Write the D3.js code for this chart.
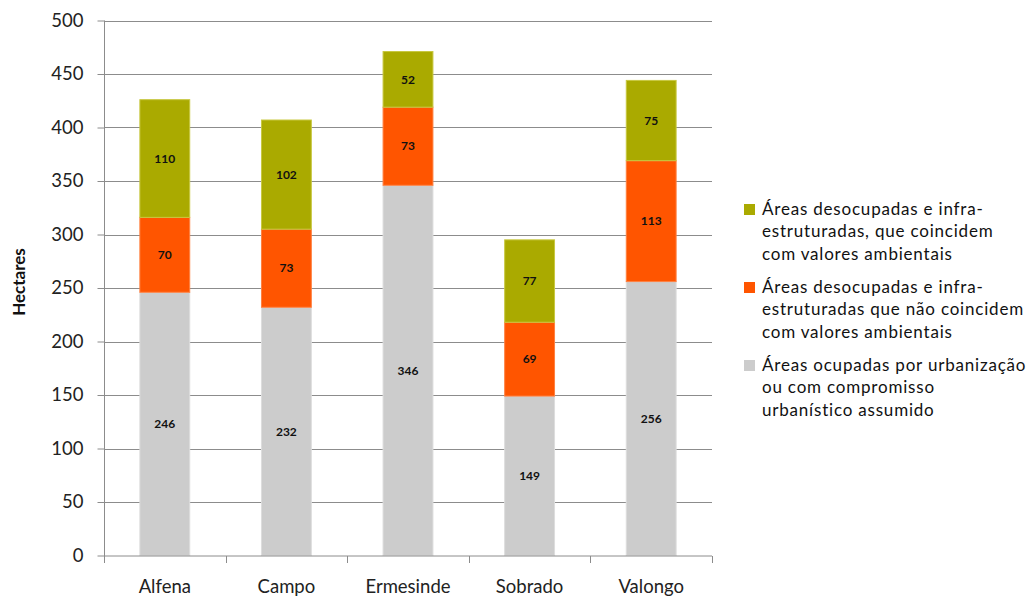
<!DOCTYPE html>
<html><head><meta charset="utf-8">
<script src="https://cdn.jsdelivr.net/npm/d3@7"></script>
<style>body{margin:0;background:#fff}svg{display:block;font-family:Lato,"Open Sans",sans-serif}</style>
</head><body><svg id="c" width="1034" height="598"></svg>
<script>
const categories = ["Alfena","Campo","Ermesinde","Sobrado","Valongo"];
const seriesNames = [
  "Áreas ocupadas por urbanização ou com compromisso urbanístico assumido",
  "Áreas desocupadas e infra-estruturadas que não coincidem com valores ambientais",
  "Áreas desocupadas e infra-estruturadas, que coincidem com valores ambientais"
];
const ocupadas = [246,232,346,149,256];
const naoCoincidem = [70,73,73,69,113];
const coincidem = [110,102,52,77,75];
const yTicks = [0,50,100,150,200,250,300,350,400,450,500];
const legendLines = [
  ["Áreas desocupadas e infra-","estruturadas, que coincidem","com valores ambientais"],
  ["Áreas desocupadas e infra-","estruturadas que não coincidem","com valores ambientais"],
  ["Áreas ocupadas por urbanização","ou com compromisso","urbanístico assumido"]
];
const colors = ["#CCCCCC","#FF5500","#AAAA00"];
const edge = ["#DDDDDD","#FF8040","#C8C840"];

const svg = d3.select("#c");
const L=104,R=712,T=20.5,B=555.5;
const x = d3.scaleBand().domain(categories).range([L,R]).paddingInner(0.59).paddingOuter(0.295);
const y = d3.scaleLinear().domain([0,500]).range([B,T]);

svg.append("g").selectAll("line").data(yTicks.filter(d=>d>0)).join("line")
  .attr("x1",L).attr("x2",R).attr("y1",d=>Math.round(y(d))+0.5).attr("y2",d=>Math.round(y(d))+0.5)
  .attr("stroke","#8C8C8C").attr("stroke-width",1);

const rows = categories.map((c,i)=>({cat:c,s0:ocupadas[i],s1:naoCoincidem[i],s2:coincidem[i]}));
const stack = d3.stack().keys(["s0","s1","s2"])(rows);

stack.forEach((layer,k)=>{
  const g = svg.append("g");
  g.selectAll("rect").data(layer).join("rect")
    .attr("x",d=>x(d.data.cat)).attr("width",x.bandwidth())
    .attr("y",d=>y(d[1])).attr("height",d=>y(d[0])-y(d[1]))
    .attr("fill",colors[k]).attr("stroke",edge[k]).attr("stroke-width",1);
  g.selectAll("text").data(layer).join("text")
    .attr("x",d=>x(d.data.cat)+x.bandwidth()/2).attr("y",d=>(y(d[0])+y(d[1]))/2)
    .attr("dy","0.35em").attr("text-anchor","middle")
    .attr("font-size",12).attr("font-weight","bold").attr("fill","#111")
    .text(d=>d[1]-d[0]);
});

const ya = svg.append("g").attr("transform",`translate(${L+0.5},0)`)
  .call(d3.axisLeft(y).tickValues(yTicks).tickSize(7).tickPadding(14));
ya.select(".domain").attr("d",`M0,${T}V${B+7}`).attr("stroke","#8C8C8C");
ya.selectAll(".tick line").attr("stroke","#8C8C8C");
ya.selectAll("text").attr("font-size",18.5).attr("font-family","Lato").attr("fill","#222");

const xa = svg.append("g").attr("transform",`translate(0,${B+0.5})`);
xa.append("line").attr("x1",L).attr("x2",R).attr("stroke","#8C8C8C");
xa.selectAll(".bt").data(d3.range(categories.length+1)).join("line")
  .attr("x1",i=>Math.round(L+i*x.step())+0.5).attr("x2",i=>Math.round(L+i*x.step())+0.5)
  .attr("y1",0).attr("y2",7).attr("stroke","#8C8C8C");
xa.selectAll("text").data(categories).join("text")
  .attr("x",d=>x(d)+x.bandwidth()/2).attr("y",36.5).attr("text-anchor","middle")
  .attr("font-size",18.5).attr("fill","#222").text(d=>d);

svg.append("text").attr("transform","translate(25,282) rotate(-90)")
  .attr("text-anchor","middle").attr("font-size",17).attr("font-weight","bold").attr("fill","#111")
  .text("Hectares");

const legStarts=[209,287,365];
const legColors=[colors[2],colors[1],colors[0]];
legendLines.forEach((lines,i)=>{
  const g=svg.append("g");
  g.append("rect").attr("x",744).attr("y",legStarts[i]-5).attr("width",11).attr("height",11).attr("fill",legColors[i]);
  lines.forEach((t,j)=>g.append("text").attr("x",762).attr("y",legStarts[i]+j*22.5).attr("dy","0.35em")
    .attr("font-size",17).attr("letter-spacing",0.8).attr("fill","#111").text(t));
});
</script></body></html>
